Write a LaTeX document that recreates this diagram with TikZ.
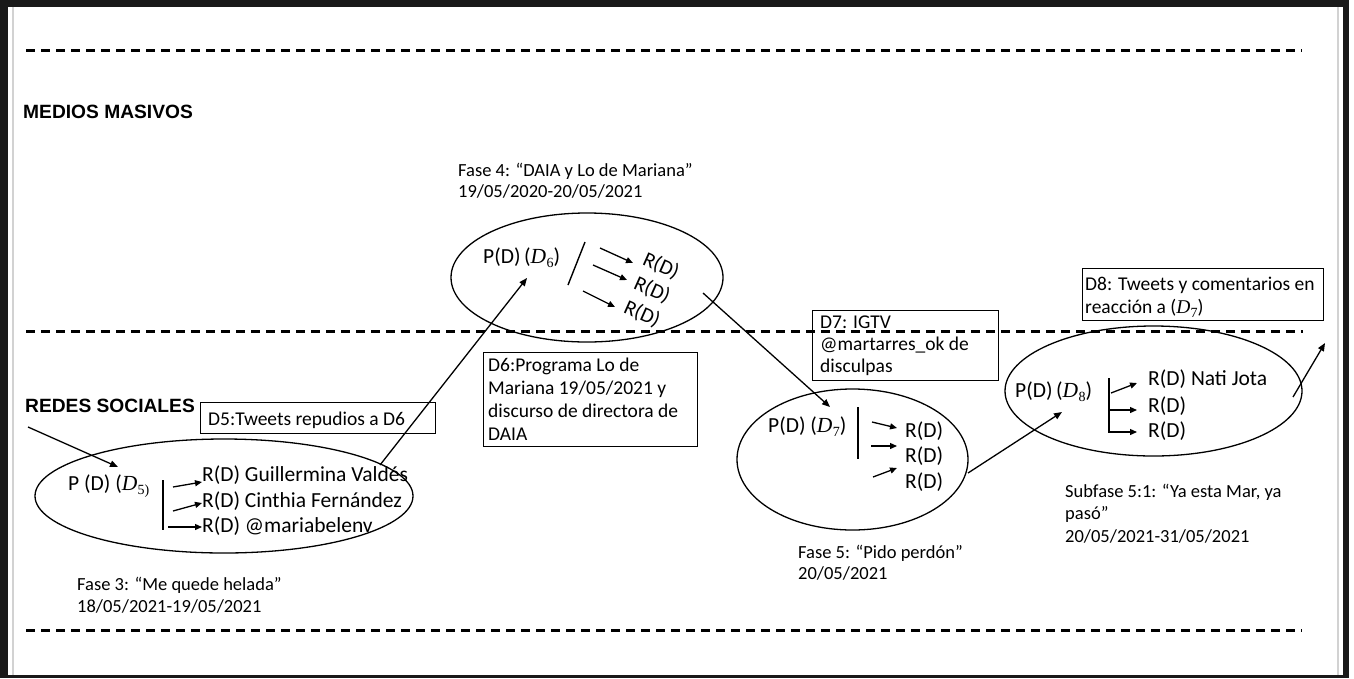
\documentclass[tikz,border=0pt]{standalone}
\usepackage{fontspec}
\setmainfont{Carlito}
\newfontfamily\headfont{Liberation Sans}
\newfontfamily\symfont{Liberation Serif}
% italic D with an upright index, set like an equation-editor variable
\newcommand\Dvar[1]{{\symfont\itshape D}\kern0.3pt\raisebox{-0.22em}{\fontsize{14}{14}\selectfont\symfont #1}}
\usetikzlibrary{arrows.meta,shapes.geometric}

\begin{document}
\begin{tikzpicture}[x=1pt,y=-1pt,
  txt/.style={inner sep=0pt, anchor=base west, font=\fontsize{18.5}{22}\selectfont},
  intxt/.style={inner sep=0pt, anchor=base west, font=\fontsize{21.5}{25}\selectfont},
  rottxt/.style={inner sep=0pt, anchor=center, rotate=-24, font=\fontsize{21}{25}\selectfont},
  boxtxt/.style={inner sep=0pt, anchor=base west, font=\fontsize{19.5}{23}\selectfont},
  head/.style={inner sep=0pt, anchor=base west, font=\headfont\bfseries\fontsize{19.2}{22}\selectfont},
  sep/.style={line width=3pt, dash pattern=on 9pt off 6pt},
  phase/.style={draw, ellipse, line width=1.3pt, inner sep=0pt},
  note/.style={draw, rectangle, line width=1.4pt, inner sep=0pt, anchor=north west},
  link/.style={line width=1.3pt, -{Triangle[length=8pt,width=6.5pt]}},
  tick/.style={line width=1.3pt, -{Triangle[length=7pt,width=6pt]}},
  bar/.style={line width=1.4pt},
]
% page and frame
\fill[white] (0,0) rectangle (1354,678);
\useasboundingbox (0,0) rectangle (1354,678);
\fill[black!90] (0,0) rectangle (1349,7);
\fill[black!90] (0,0) rectangle (8,678);
\fill[black!90] (1343,0) rectangle (1349,678);
\fill[black!90] (0,675) rectangle (1349,678);
\draw[gray!35, line width=1.5pt] (13,7) -- (13,675);
\draw[gray!35, line width=1.5pt] (1338,7) -- (1338,675);

% level separators
\draw[sep] (26,50) -- (1302,50);
\draw[sep] (26,331) -- (1303,331);
\draw[sep] (26,630) -- (1302,630);

% level headings
\node[head] (hmm) at (23,118) {MEDIOS MASIVOS};
\node[head] (hrs) at (25,412) {REDES SOCIALES};

% ---- phase 3 ----
\node[phase, minimum width=378pt, minimum height=114pt] (e1) at (224,496) {};
\node[intxt] (p5) at (68,490) {P (D) (\Dvar{5)}};
\draw[bar] (163,480) -- (163,530);
\node[intxt] (r51) at (202,481) {R(D) Guillermina Valdés};
\node[intxt] (r52) at (202,507) {R(D) Cinthia Fernández};
\node[intxt] (r53) at (202,532) {R(D) @mariabelenv};
\draw[tick] (173,487) -- (202,482);
\draw[tick] (173,511) -- (202,503);
\draw[tick] (168,527) -- (202,527);
\node[txt] (f3a) at (77,590) {Fase 3: “Me quede helada”};
\node[txt] (f3b) at (77,612) {18/05/2021-19/05/2021};
\node[note, minimum width=235pt, minimum height=31pt] (b5) at (200,402) {};
\node[boxtxt] (b5t) at (208,425) {D5:Tweets repudios a D6};

% ---- phase 4 ----
\node[phase, minimum width=272pt, minimum height=129pt] (e2) at (587,277.5) {};
\node[intxt] (p6) at (483,263) {P(D)\,(\Dvar{6})};
\draw[bar] (585,242) -- (568,285);
\draw[tick] (600,248) -- (633,263);
\draw[tick] (593,265) -- (627,280);
\draw[tick] (583,291) -- (615,307);
\node[rottxt] (r61) at (661,266) {R(D)};
\node[rottxt] (r62) at (652,290) {R(D)};
\node[rottxt] (r63) at (642,314) {R(D)};
\node[txt] (f4a) at (458,176) {Fase 4: “DAIA y Lo de Mariana”};
\node[txt] (f4b) at (458,197) {19/05/2020-20/05/2021};
\node[note, minimum width=214pt, minimum height=94pt] (b6) at (483,352) {};
\node[boxtxt] (b6a) at (488,371) {D6:Programa Lo de};
\node[boxtxt] (b6b) at (488,394) {Mariana 19/05/2021 y};
\node[boxtxt] (b6c) at (488,417) {discurso de directora de};
\node[boxtxt] (b6d) at (488,440) {DAIA};

% ---- phase 5 ----
\node[phase, minimum width=231pt, minimum height=141pt] (e3) at (852.5,459.5) {};
\node[intxt] (p7) at (768,432) {P(D) (\Dvar{7})};
\draw[bar] (858,407) -- (858,459);
\draw[tick] (872,422) -- (897,428);
\draw[tick] (871,446) -- (897,446);
\draw[tick] (873,477) -- (897,468);
\node[intxt] (r71) at (905,437) {R(D)};
\node[intxt] (r72) at (905,462) {R(D)};
\node[intxt] (r73) at (905,488) {R(D)};
\node[txt] (f5a) at (798,558) {Fase 5: “Pido perdón”};
\node[txt] (f5b) at (798,579) {20/05/2021};
\node[note, minimum width=186pt, minimum height=70pt] (b7) at (812,310) {};
\node[boxtxt] (b7a) at (820,328) {D7: IGTV};
\node[boxtxt] (b7b) at (820,350) {@martarres\_ok de};
\node[boxtxt] (b7c) at (820,372) {disculpas};

% ---- subphase 5.1 ----
\node[phase, minimum width=297pt, minimum height=130pt] (e4) at (1153.5,391) {};
\node[intxt] (p8) at (1015,397) {P(D)\,(\Dvar{8})};
\draw[bar] (1109,378) -- (1109,433);
\draw[tick] (1111,393) -- (1137,383);
\draw[tick] (1110,410) -- (1137,410);
\draw[tick] (1110,432) -- (1137,432);
\node[intxt] (r81) at (1148,385) {R(D) Nati Jota};
\node[intxt] (r82) at (1148,412) {R(D)};
\node[intxt] (r83) at (1148,437) {R(D)};
\node[txt] (s5a) at (1065,497) {Subfase 5:1: “Ya esta Mar, ya};
\node[txt] (s5b) at (1065,519) {pasó”};
\node[txt] (s5c) at (1065,542) {20/05/2021-31/05/2021};
\node[note, minimum width=241pt, minimum height=52pt] (b8) at (1082,268) {};
\node[boxtxt] (b8a) at (1085,290) {D8: Tweets y comentarios en};
\node[boxtxt] (b8b) at (1085,313) {reacción a (\Dvar{7})};

% ---- flow between phases ----
\coordinate (in1) at (28,427);
\coordinate (t1) at (118,467);
\coordinate (o1) at (380,465);
\coordinate (t2) at (527,278);
\coordinate (o2) at (703,293);
\coordinate (t3) at (830,407);
\coordinate (o3) at (968,473);
\coordinate (t4) at (1062,412);
\coordinate (o4) at (1293,397);
\coordinate (out4) at (1325,343);
\draw[link] (in1) -- (t1);
\draw[link] (o1) -- (t2);
\draw[link] (o2) -- (t3);
\draw[link] (o3) -- (t4);
\draw[link] (o4) -- (out4);
\end{tikzpicture}
\end{document}
